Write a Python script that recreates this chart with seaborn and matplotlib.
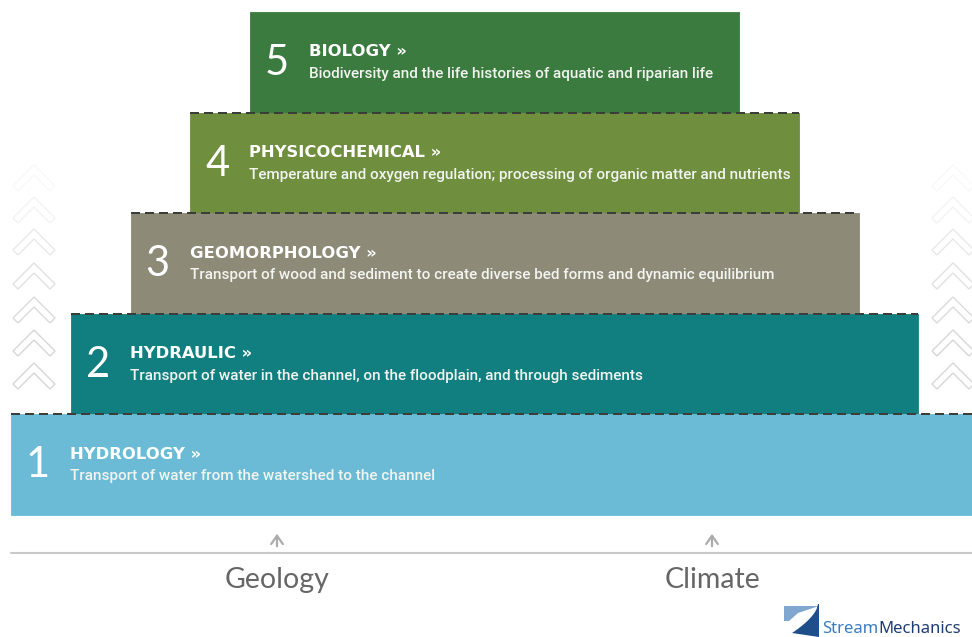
import numpy as np
import pandas as pd
import matplotlib.pyplot as plt
import seaborn as sns
from matplotlib.patches import Polygon

# pyramid levels, top to bottom
levels = ["5", "4", "3", "2", "1"]
titles = ["BIOLOGY »", "PHYSICOCHEMICAL »", "GEOMORPHOLOGY »", "HYDRAULIC »", "HYDROLOGY »"]
subtitles = [
    "Biodiversity and the life histories of aquatic and riparian life",
    "Temperature and oxygen regulation; processing of organic matter and nutrients",
    "Transport of wood and sediment to create diverse bed forms and dynamic equilibrium",
    "Transport of water in the channel, on the floodplain, and through sediments",
    "Transport of water from the watershed to the channel",
]
half_widths = [244.5, 304.5, 364.0, 423.5, 483.5]
colors = ["#3b7b3f", "#6f8e3e", "#8e8a78", "#117f80", "#6bbbd6"]
drivers = ["Geology", "Climate"]

# layout (pixels)
W, H = 972, 637
CX = 494.5          # pyramid centre
TOP = 12            # top of level 5
ROW = 100.6         # height of one level
driver_x = [277, 712]

sns.set_theme(style="white")

fig = plt.figure(figsize=(W / 100, H / 100), dpi=100)
ax = fig.add_axes([0, 0, 1, 1])

df = pd.DataFrame({"level": levels, "half": half_widths})
pal = dict(zip(levels, colors))
# mirror two horizontal barplots around zero to get centred blocks
for sign in (1, -1):
    sns.barplot(data=df.assign(half=df["half"] * sign), x="half", y="level",
                hue="level", palette=pal, order=levels, hue_order=levels,
                orient="h", width=1.0, saturation=1, legend=False, ax=ax)
for p in ax.patches:
    p.set_edgecolor(p.get_facecolor())
    p.set_linewidth(0.6)
ax.set_xlim(-CX, W - CX)
ax.set_ylim(-0.5 + (H - TOP) / ROW, -0.5 - TOP / ROW)
ax.axis("off")

# overlay in pixel coordinates for labels and decorations
ov = fig.add_axes([0, 0, 1, 1])
ov.set_xlim(0, W)
ov.set_ylim(H, 0)
ov.axis("off")

for i, lev in enumerate(levels):
    T = TOP + i * ROW
    L = CX - half_widths[i]
    R = CX + half_widths[i]
    if i > 0:
        ov.plot([L, R], [T, T], color="#3a3d38", lw=1.44, ls=(0, (4.5, 2.5)),
                solid_capstyle="butt")
    ov.text(L + 15, T + 51, lev, color="white", fontsize=30, family="Lato",
            fontweight="normal", va="center", ha="left")
    ov.text(L + 59, T + 40, titles[i], color="white", fontsize=11.8,
            family="DejaVu Sans", fontweight="bold", va="center", ha="left")
    ov.text(L + 59, T + 62, subtitles[i], color="#f2f4f0", fontsize=11,
            family="Roboto", fontweight="medium", va="center", ha="left")

# faint chevrons at both sides
apex_y = [165, 197, 229, 263, 297, 330, 363]
alphas = [0.15, 0.3, 0.55, 0.75, 0.9, 1.0, 1.0]
for cx in (34, 953):
    for cy, a in zip(apex_y, alphas):
        pts = [(cx - 21, cy + 21), (cx, cy), (cx + 21, cy + 21),
               (cx + 16, cy + 26), (cx, cy + 10), (cx - 16, cy + 26)]
        ov.add_patch(Polygon(pts, closed=True, facecolor="white",
                             edgecolor="#d6d6d6", lw=1.0, alpha=a))

# ground line, arrows and drivers
ov.plot([11, W], [553, 553], color="#c9c9c9", lw=1.5)
for x, name in zip(driver_x, drivers):
    ov.annotate("", xy=(x, 531), xytext=(x, 549),
                arrowprops=dict(arrowstyle="->,head_length=0.5,head_width=0.35",
                                color="#ababab", lw=1.6))
    ov.text(x, 580, name, ha="center", va="center", fontsize=20.5,
            family="Lato", fontweight="normal", color="#666666")

# logo
ox = -8
ov.add_patch(Polygon([(792 + ox, 606), (827 + ox, 606), (806 + ox, 613),
                      (797 + ox, 621), (792 + ox, 621)],
                     closed=True, facecolor="#7fa7cf", lw=0))
t = np.linspace(0, 1, 20)
curve = [(826 + ox - 26 * s, 604 + 29 * s ** 0.6) for s in t]
ov.add_patch(Polygon([(827 + ox, 604), (827 + ox, 637)] + curve[::-1],
                     closed=True, facecolor="#1f4f8a", lw=0))
st = ov.text(822, 633, "Stream", fontsize=12, family="Noto Sans", color="#3a7cc0",
             va="baseline", ha="left")
ov.annotate("Mechanics", xy=(1, 0), xycoords=st, va="bottom", ha="left",
            fontsize=12, family="Noto Sans", fontweight="bold", color="#1e3c74",
            annotation_clip=False)

fig.savefig("out.png", dpi=100)
